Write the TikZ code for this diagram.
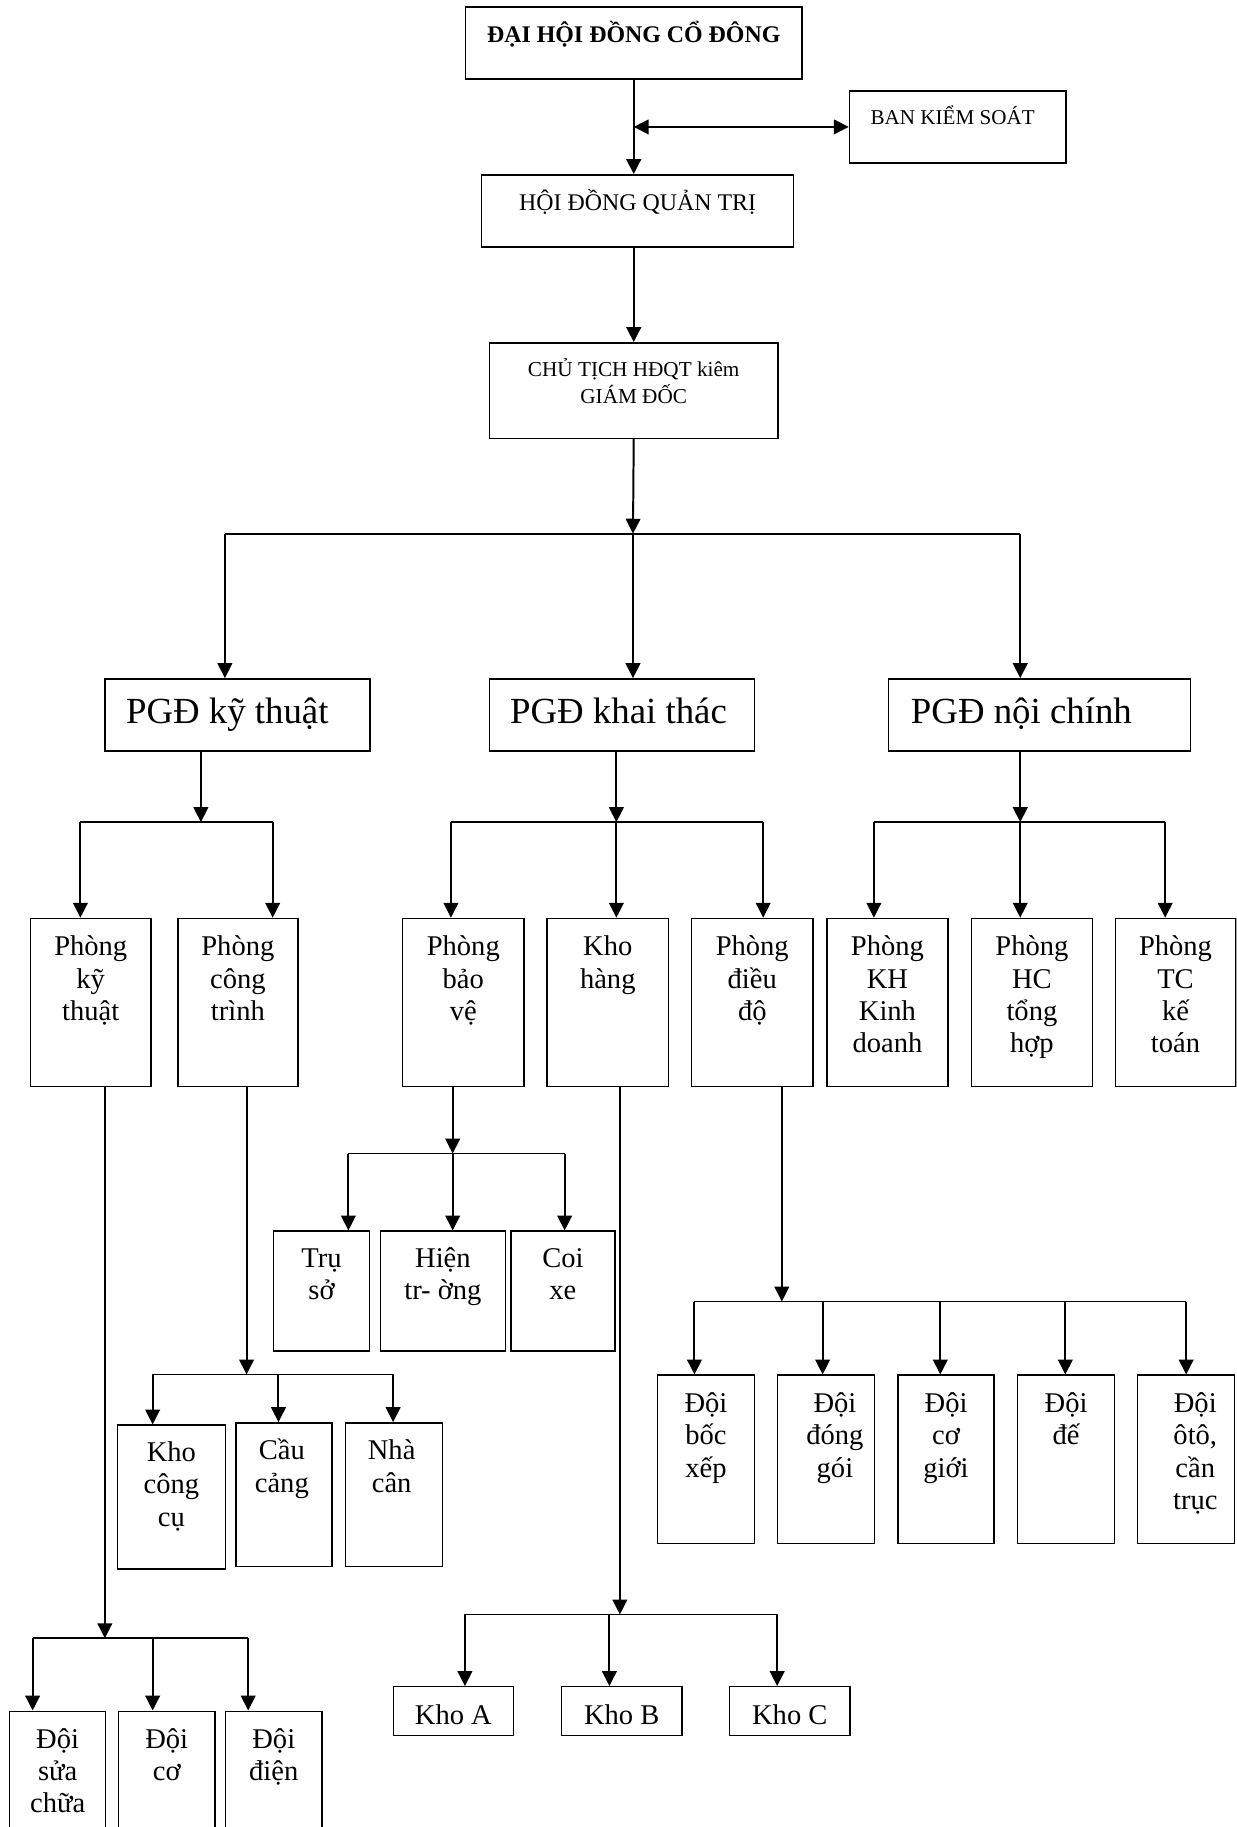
\documentclass[tikz,border=0pt]{standalone}
\usepackage{fontspec}
\setmainfont{Liberation Serif}
\usetikzlibrary{arrows.meta}
\newcommand\mkbox[5]{\node[bx,minimum width=#4pt,minimum height=#5pt] (#1) at (#2,#3) {};}
\newcommand\mystrut[1]{\rule{0pt}{#1pt}}
\begin{document}
\begin{tikzpicture}[x=1pt,y=-1pt,
  bx/.style={draw,line width=1.25pt,anchor=north west,inner sep=0pt},
  lbl/.style={anchor=north,inner sep=0pt,align=center,font=\fontsize{24.5}{27.8}\selectfont},
  big/.style={anchor=north west,inner sep=0pt,font=\fontsize{31.6}{36}\selectfont},
  arr/.style={line width=1.7pt,-{Triangle[length=12.8pt,width=12.6pt]}},
  dblarr/.style={line width=1.7pt,{Triangle[length=12.8pt,width=12.6pt]}-{Triangle[length=12.8pt,width=12.6pt]}},
  ln/.style={line width=1.6pt},
]
\useasboundingbox (0,0) rectangle (1061,1568);
\fill[white] (0,0) rectangle (1061,1568);
\clip (0,0) rectangle (1061,1568);

% ---------- boxes ----------
\mkbox{dhcd}{399}{5.2}{288.5}{62}
\mkbox{bks}{728.4}{77.3}{185.8}{62}
\mkbox{hdqt}{412.6}{149.4}{268}{62}
\mkbox{ct}{419.5}{293.6}{247.5}{82}
\mkbox{pgdkt}{89.5}{582}{227.4}{62}
\mkbox{pgdkh}{419.4}{582}{227.6}{62}
\mkbox{pgdnc}{762}{582}{259}{62}
\mkbox{pkt}{25.5}{787.6}{103.5}{144.4}
\mkbox{pct}{152}{787.6}{103}{144.4}
\mkbox{pbv}{345}{787.6}{104}{144.4}
\mkbox{kh}{469}{787.6}{104}{144.4}
\mkbox{pdd}{593}{787.6}{104}{144.4}
\mkbox{pkh}{709}{787.6}{104}{144.4}
\mkbox{phc}{833}{787.6}{104}{144.4}
\mkbox{ptc}{956.5}{787.6}{103.5}{144.4}
\mkbox{ts}{234}{1056}{82.7}{103}
\mkbox{ht}{326}{1056}{107}{103}
\mkbox{cx}{438}{1056}{89}{103}
\mkbox{kcc}{100}{1222.5}{93}{123.5}
\mkbox{cc}{202}{1220.5}{82.5}{123.5}
\mkbox{nc}{296}{1220.5}{83}{123.5}
\mkbox{dsc}{7.7}{1468}{82.3}{120}
\mkbox{dco}{101}{1468}{83}{120}
\mkbox{ddi}{193}{1468}{82.7}{120}
\mkbox{ka}{337}{1447}{103}{42}
\mkbox{kb}{481.4}{1447}{103.1}{42}
\mkbox{kc}{625.6}{1447}{103.2}{42}
\mkbox{dbx}{563.6}{1179.6}{83.3}{144.4}
\mkbox{ddg}{666.8}{1179.6}{82.9}{144.4}
\mkbox{dcg}{770}{1179.6}{82.6}{144.4}
\mkbox{dde}{872.8}{1179.6}{83}{144.4}
\mkbox{doto}{975.7}{1179.6}{83}{144.4}

% ---------- texts ----------
\node[anchor=north,inner sep=0pt,font=\bfseries\fontsize{20.5}{24}\selectfont] (tdhcd) at (dhcd.north) {\mystrut{31.4}ĐẠI HỘI ĐỒNG CỔ ĐÔNG};
\node[anchor=north,inner sep=0pt,font=\fontsize{18.1}{22}\selectfont] (tbks) at ([xshift=-4.3pt]bks.north) {\mystrut{29}BAN KIỂM SOÁT};
\node[anchor=north,inner sep=0pt,font=\fontsize{20.5}{24}\selectfont] (thdqt) at (hdqt.north) {\mystrut{31.4}HỘI ĐỒNG QUẢN TRỊ};
\node[anchor=north,inner sep=0pt,align=center,font=\fontsize{18.2}{23.5}\selectfont] (tct) at (ct.north) {\mystrut{29}CHỦ TỊCH HĐQT kiêm\\GIÁM ĐỐC};

\node[big] (tpgdkt) at ([xshift=18.5pt]pgdkt.north west) {\mystrut{38.7}PGĐ kỹ thuật};
\node[big] (tpgdkh) at ([xshift=18.2pt]pgdkh.north west) {\mystrut{38.7}PGĐ khai thác};
\node[big] (tpgdnc) at ([xshift=19.6pt]pgdnc.north west) {\mystrut{38.7}PGĐ nội chính};

\node[lbl] (tpkt) at (pkt.north) {\mystrut{32.4}Phòng\\kỹ\\thuật};
\node[lbl] (tpct) at (pct.north) {\mystrut{32.4}Phòng\\công\\trình};
\node[lbl] (tpbv) at (pbv.north) {\mystrut{32.4}Phòng\\bảo\\vệ};
\node[lbl] (tkh) at (kh.north) {\mystrut{32.4}Kho\\hàng};
\node[lbl] (tpdd) at (pdd.north) {\mystrut{32.4}Phòng\\điều\\độ};
\node[lbl] (tpkh) at (pkh.north) {\mystrut{32.4}Phòng\\KH\\Kinh\\doanh};
\node[lbl] (tphc) at (phc.north) {\mystrut{32.4}Phòng\\HC\\tổng\\hợp};
\node[lbl] (tptc) at (ptc.north) {\mystrut{32.4}Phòng\\TC\\kế\\toán};

\node[lbl] (tts) at (ts.north) {\mystrut{31.2}Trụ\\sở};
\node[lbl] (tht) at (ht.north) {\mystrut{31.2}Hiện\\tr- ờng};
\node[lbl] (tcx) at (cx.north) {\mystrut{31.2}Coi\\xe};

\node[lbl] (tkcc) at (kcc.north) {\mystrut{31.5}Kho\\công\\cụ};
\node[lbl] (tcc) at ([xshift=-2pt]cc.north) {\mystrut{32.3}Cầu\\cảng};
\node[lbl] (tnc) at ([xshift=-2pt]nc.north) {\mystrut{32.3}Nhà\\cân};

\node[lbl] (tdsc) at (dsc.north) {\mystrut{32}Đội\\sửa\\chữa};
\node[lbl] (tdco) at (dco.north) {\mystrut{32}Đội\\cơ};
\node[lbl] (tddi) at (ddi.north) {\mystrut{32}Đội\\điện};

\node[lbl] (tka) at (ka.north) {\mystrut{32.6}Kho A};
\node[lbl] (tkb) at (kb.north) {\mystrut{32.6}Kho B};
\node[lbl] (tkc) at (kc.north) {\mystrut{32.6}Kho C};

\node[lbl] (tdbx) at (dbx.north) {\mystrut{32.4}Đội\\bốc\\xếp};
\node[lbl] (tddg) at ([xshift=7.7pt]ddg.north) {\mystrut{32.4}Đội\\đóng\\gói};
\node[lbl] (tdcg) at (dcg.north) {\mystrut{32.4}Đội\\cơ\\giới};
\node[lbl] (tdde) at (dde.north) {\mystrut{32.4}Đội\\đế};
\node[lbl] (tdoto) at ([xshift=8pt]doto.north) {\mystrut{32.4}Đội\\ôtô,\\cần\\trục};

% ---------- connectors ----------
\draw[arr] (dhcd.south) -- (dhcd.south |- hdqt.north);
\coordinate (jb) at (dhcd.south |- bks.west);
\draw[dblarr] (jb) -- (bks.west);
\draw[arr] (ct.north |- hdqt.south) -- (ct.north);

% bus 1
\coordinate (j1) at (543.25,458);
\coordinate (b1l) at (193,458);
\coordinate (b1r) at (875.6,458);
\draw[arr] (ct.south) -- (j1);
\draw[ln] (b1l) -- (b1r);
\draw[arr] (b1l) -- (b1l |- pgdkt.north);
\draw[arr] (j1) -- (j1 |- pgdkh.north);
\draw[arr] (b1r) -- (b1r |- pgdnc.north);

% bus 2 (PGD ky thuat)
\coordinate (j2) at (172.4,705.6);
\coordinate (b2l) at (69,705.6);
\coordinate (b2r) at (234,705.6);
\draw[arr] (j2 |- pgdkt.south) -- (j2);
\draw[ln] (b2l) -- (b2r);
\draw[arr] (b2l) -- (b2l |- pkt.north);
\draw[arr] (b2r) -- (b2r |- pct.north);

% bus 3 (PGD khai thac)
\coordinate (j3) at (529,705.6);
\coordinate (b3l) at (387,705.6);
\coordinate (b3r) at (655,705.6);
\draw[arr] (j3 |- pgdkh.south) -- (j3);
\draw[ln] (b3l) -- (b3r);
\draw[arr] (b3l) -- (b3l |- pbv.north);
\draw[arr] (j3) -- (j3 |- kh.north);
\draw[arr] (b3r) -- (b3r |- pdd.north);

% bus 4 (PGD noi chinh)
\coordinate (j4) at (875.6,705.6);
\coordinate (b4l) at (750,705.6);
\coordinate (b4r) at (1000,705.6);
\draw[arr] (j4 |- pgdnc.south) -- (j4);
\draw[ln] (b4l) -- (b4r);
\draw[arr] (b4l) -- (b4l |- pkh.north);
\draw[arr] (j4) -- (j4 |- phc.north);
\draw[arr] (b4r) -- (b4r |- ptc.north);

% bus 5 (Phong ky thuat)
\coordinate (j5) at (90,1406);
\coordinate (b5l) at (28,1406);
\coordinate (b5m) at (131,1406);
\coordinate (b5r) at (213,1406);
\draw[arr] (j5 |- pkt.south) -- (j5);
\draw[ln] (b5l) -- (b5r);
\draw[arr] (b5l) -- (b5l |- dsc.north);
\draw[arr] (b5m) -- (b5m |- dco.north);
\draw[arr] (b5r) -- (b5r |- ddi.north);

% bus 6 (Phong cong trinh)
\coordinate (j6) at (211.6,1179.6);
\coordinate (b6l) at (131,1179.6);
\coordinate (b6m) at (239,1179.6);
\coordinate (b6r) at (337.4,1179.6);
\draw[arr] (j6 |- pct.south) -- (j6);
\draw[ln] (b6l) -- (b6r);
\draw[arr] (b6l) -- (b6l |- kcc.north);
\draw[arr] (b6m) -- (b6m |- cc.north);
\draw[arr] (b6r) -- (b6r |- nc.north);

% bus 7 (Phong bao ve)
\coordinate (j7) at (388.5,990);
\coordinate (b7l) at (299,990);
\coordinate (b7r) at (484.6,990);
\draw[arr] (j7 |- pbv.south) -- (j7);
\draw[ln] (b7l) -- (b7r);
\draw[arr] (b7l) -- (b7l |- ts.north);
\draw[arr] (j7) -- (j7 |- ht.north);
\draw[arr] (b7r) -- (b7r |- cx.north);

% bus 8 (Kho hang)
\coordinate (j8) at (532,1385.6);
\coordinate (b8l) at (399,1385.6);
\coordinate (b8m) at (523,1385.6);
\coordinate (b8r) at (667,1385.6);
\draw[arr] (j8 |- kh.south) -- (j8);
\draw[ln] (b8l) -- (b8r);
\draw[arr] (b8l) -- (b8l |- ka.north);
\draw[arr] (b8m) -- (b8m |- kb.north);
\draw[arr] (b8r) -- (b8r |- kc.north);

% bus 9 (Phong dieu do)
\coordinate (j9) at (671,1117);
\coordinate (b9a) at (596,1117);
\coordinate (b9b) at (706,1117);
\coordinate (b9c) at (807,1117);
\coordinate (b9d) at (914.3,1117);
\coordinate (b9e) at (1018,1117);
\draw[arr] (j9 |- pdd.south) -- (j9);
\draw[ln] (b9a) -- (b9e);
\draw[arr] (b9a) -- (b9a |- dbx.north);
\draw[arr] (b9b) -- (b9b |- ddg.north);
\draw[arr] (b9c) -- (b9c |- dcg.north);
\draw[arr] (b9d) -- (b9d |- dde.north);
\draw[arr] (b9e) -- (b9e |- doto.north);
\end{tikzpicture}
\end{document}
